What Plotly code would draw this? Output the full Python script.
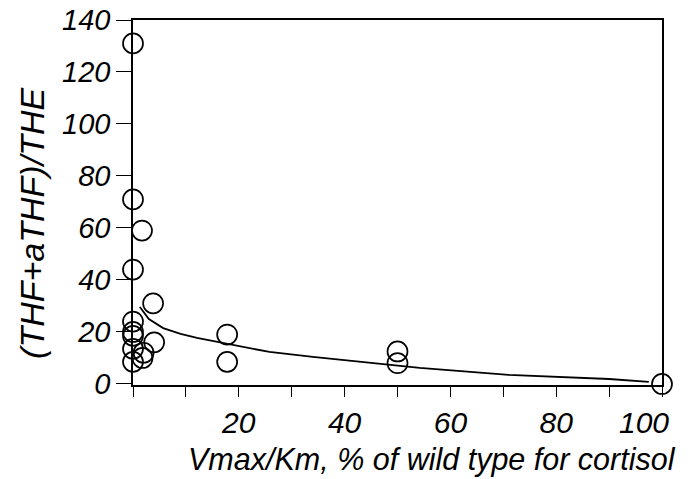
import plotly.graph_objects as go

# Data points
pts_x = [0, 0, 1.7, 0, 3.8, 0, 0, 0, 4.0, 0, 2.0, 1.8, 0, 17.8, 17.8, 50, 50, 100]
pts_y = [131, 71, 59, 44, 31, 24, 20, 18.5, 16, 13.5, 12, 10, 8.5, 19, 8.5, 12.5, 8, 0]

# Fitted curve, points
curve_x = [1.3, 3.0, 5.7, 9.0, 12.1, 17.0, 25.8, 34.0, 45.3, 54.2, 71.0, 90.0, 97.5]
curve_y = [29.6, 25.0, 21.5, 19.3, 17.7, 15.8, 12.3, 10.4, 8.1, 6.2, 3.5, 1.9, 0.8]

x_ticks = [0, 10, 20, 30, 40, 50, 60, 70, 80, 90, 100]
x_labels = ["", "", "20", "", "40", "", "60", "", "80", "", ""]
x_last_label = "100"   # drawn slightly left of its tick, as in the original
y_ticks = [0, 20, 40, 60, 80, 100, 120, 140]

x_title = "Vmax/Km, % of wild type for cortisol"
y_title = "(THF+aTHF)/THE"

fig = go.Figure()
fig.add_trace(go.Scatter(x=curve_x, y=curve_y, mode="lines",
                         line=dict(color="black", width=1.8), hoverinfo="skip"))
fig.add_trace(go.Scatter(x=pts_x, y=pts_y, mode="markers",
                         marker=dict(symbol="circle-open", size=20, color="black",
                                     line=dict(width=1.7, color="black")),
                         cliponaxis=False))

font_fam = "Liberation Sans, Arial, sans-serif"
# page body has an 8px default margin, so the figure is drawn 8px smaller
fig.update_layout(
    width=683, height=471,
    margin=dict(l=125, r=29, t=12, b=94),
    plot_bgcolor="white", paper_bgcolor="white",
    showlegend=False,
    font=dict(family=font_fam, color="black"),
    xaxis=dict(range=[0, 100], tickvals=x_ticks, ticktext=x_labels, automargin=False,
               ticklabeloverflow="allow",
               showgrid=False, zeroline=False, showline=True, linecolor="black",
               linewidth=1.5, mirror=True, ticks="outside", ticklen=10, tickwidth=1.2,
               tickcolor="black",
               tickfont=dict(size=30, style="italic", family=font_fam)),
    yaxis=dict(range=[-0.4, 140], tickvals=y_ticks, automargin=False,
               ticklabeloverflow="allow",
               showgrid=False, zeroline=False, showline=True, linecolor="black",
               linewidth=1.5, mirror=True, ticks="outside", ticklen=15, tickwidth=1.2,
               tickcolor="black",
               tickfont=dict(size=29, style="italic", family=font_fam)),
    annotations=[
        dict(text=x_last_label, xref="x", yref="paper", x=x_ticks[-1], y=-0.103,
             xshift=-18, xanchor="center", yanchor="middle", showarrow=False,
             font=dict(size=30, style="italic", family=font_fam)),
        dict(text=x_title, xref="paper", yref="paper", x=0.565, y=-0.204,
             xanchor="center", yanchor="middle", showarrow=False,
             font=dict(size=30.5, style="italic", family=font_fam)),
        dict(text=y_title, xref="paper", yref="paper", x=-0.191, y=0.444,
             xanchor="center", yanchor="middle", showarrow=False, textangle=-90,
             font=dict(size=34, style="italic", family=font_fam)),
    ],
)
fig.write_html("out.html")
